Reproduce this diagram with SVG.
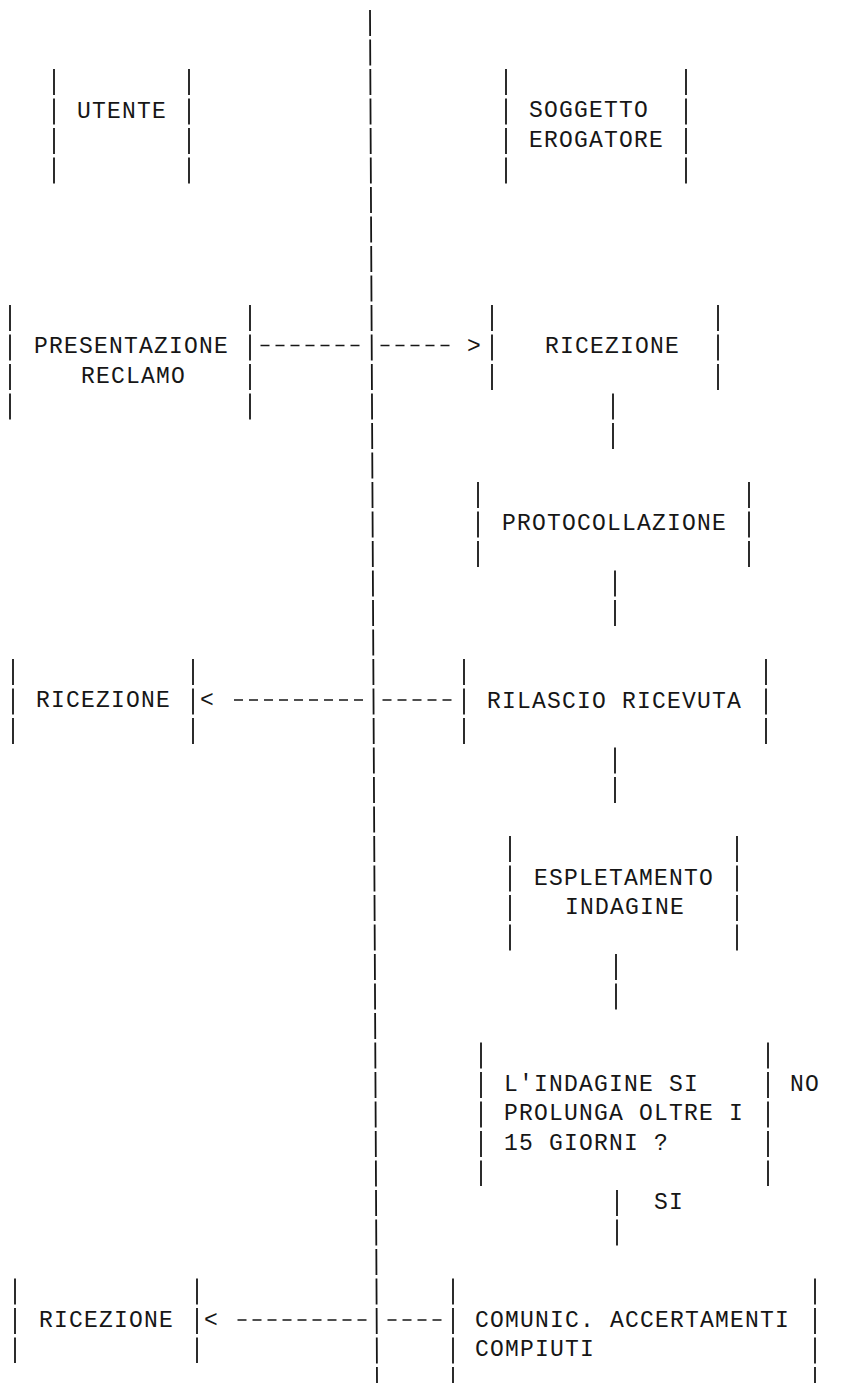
<svg xmlns="http://www.w3.org/2000/svg" width="866" height="1383" viewBox="0 0 866 1383">
<style>
  .bar { stroke: #161616; stroke-width: 1.8; stroke-dasharray: 26 3.5; fill: none; }
  .dash { stroke: #161616; stroke-width: 1.6; stroke-dasharray: 9 6; fill: none; }
  .t { font-family: "Liberation Mono", "Courier New", monospace; font-size: 23px; letter-spacing: 1.2px; fill: #161616; }
</style>
<rect x="0" y="0" width="866" height="1383" fill="#ffffff"/>

<g id="divider">
  <path class="bar" d="M370 10 L377 1383"/>
</g>

<g id="node-utente">
  <path class="bar" d="M54 69 V183.5 M189 69 V183.5"/>
  <text class="t" x="77" y="118">UTENTE</text>
</g>

<g id="node-soggetto">
  <path class="bar" d="M506 69 V183.5 M686 69 V183.5"/>
  <text class="t" x="529" y="117">SOGGETTO</text>
  <text class="t" x="529" y="147">EROGATORE</text>
</g>

<g id="node-presentazione">
  <path class="bar" d="M10 305 V419.5 M250 305 V419.5"/>
  <text class="t" x="34" y="353">PRESENTAZIONE</text>
  <text class="t" x="81" y="383">RECLAMO</text>
</g>

<g id="node-ricezione-1">
  <path class="bar" d="M492 305 V390 M718 305 V390"/>
  <text class="t" x="545" y="353">RICEZIONE</text>
</g>

<g id="node-protocollazione">
  <path class="bar" d="M478 482 V567 M749 482 V567"/>
  <text class="t" x="502" y="530">PROTOCOLLAZIONE</text>
</g>

<g id="node-ricezione-2">
  <path class="bar" d="M13 659 V744.5 M193 659 V744.5"/>
  <text class="t" x="36" y="707">RICEZIONE</text>
</g>

<g id="node-rilascio">
  <path class="bar" d="M464 659 V744.5 M766 659 V744.5"/>
  <text class="t" x="487" y="708">RILASCIO RICEVUTA</text>
</g>

<g id="node-espletamento">
  <path class="bar" d="M510 836 V950.5 M737 836 V950.5"/>
  <text class="t" x="534" y="885">ESPLETAMENTO</text>
  <text class="t" x="565" y="914">INDAGINE</text>
</g>

<g id="node-decisione">
  <path class="bar" d="M481 1042.5 V1186 M768 1042.5 V1186"/>
  <text class="t" x="504" y="1091">L'INDAGINE SI</text>
  <text class="t" x="504" y="1120">PROLUNGA OLTRE I</text>
  <text class="t" x="504" y="1150">15 GIORNI ?</text>
</g>

<g id="node-ricezione-3">
  <path class="bar" d="M15 1278.5 V1363 M197 1278.5 V1363"/>
  <text class="t" x="39" y="1327">RICEZIONE</text>
</g>

<g id="node-comunic">
  <path class="bar" d="M453 1278.5 V1383 M815 1278.5 V1383"/>
  <text class="t" x="475" y="1327">COMUNIC. ACCERTAMENTI</text>
  <text class="t" x="475" y="1356">COMPIUTI</text>
</g>

<g id="connectors">
  <path class="dash" d="M260.5 345.5 H360 M380.5 345.5 H450"/>
  <text class="t" x="467" y="353">&gt;</text>
  <path class="bar" d="M613 393.5 V449"/>
  <path class="bar" d="M615 570.5 V626"/>
  <path class="dash" d="M234 700 H363 M382.5 700 H452"/>
  <text class="t" x="200" y="707">&lt;</text>
  <path class="bar" d="M615 747.5 V803"/>
  <path class="bar" d="M616 954 V1009.5"/>
  <text class="t" x="790" y="1091">NO</text>
  <path class="bar" d="M617 1190 V1245.5"/>
  <text class="t" x="654" y="1209">SI</text>
  <path class="dash" d="M237.5 1320 H366.5 M387.5 1320 H441.5"/>
  <text class="t" x="204" y="1327">&lt;</text>
</g>
</svg>
